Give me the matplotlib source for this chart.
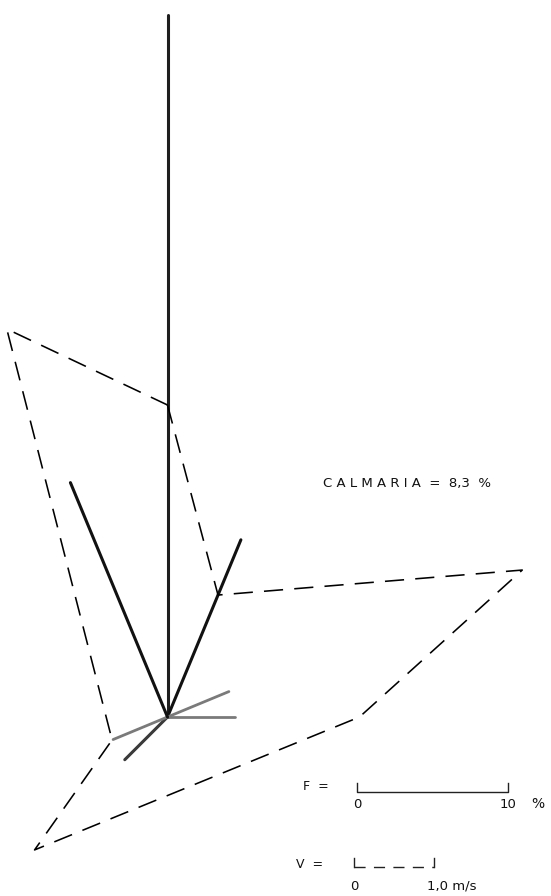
import numpy as np
import matplotlib.pyplot as plt

# wind directions in degrees from north (clockwise)
directions = ['N', 'NNE', 'ENE', 'E', 'SW', 'WSW', 'NNW']
angles = [0.0, 22.5, 67.5, 90.0, 225.0, 247.5, 337.5]
freq_pct = [46.5, 12.7, 4.4, 4.5, 4.0, 3.9, 16.8]      # frequency (%)
speed_ms = [3.9, 1.65, 4.8, 2.4, 2.35, 0.75, 5.25]    # mean speed (m/s)
freq_colors = ['#1e1e1e', '#111111', '#7a7a7a', '#7a7a7a', '#3a3a3a', '#7a7a7a', '#111111']
calm_pct = 8.3

# drawing scales (pixels)
cx, cy = 167.5, 717.0
px_per_pct = 15.1
px_per_ms = 80.0


def polar_xy(r, ang):
    a = np.radians(ang)
    return cx + r * np.sin(a), cy - r * np.cos(a)


fig = plt.figure(figsize=(5.51, 8.96), dpi=100)
ax = fig.add_axes([0, 0, 1, 1])
ax.set_xlim(0, 551)
ax.set_ylim(896, 0)
ax.axis('off')

# frequency spokes
for f, ang, c in zip(freq_pct, angles, freq_colors):
    x, y = polar_xy(f * px_per_pct, ang)
    lw = 2.2 if c != '#7a7a7a' else 2.0
    ax.plot([cx, x], [cy, y], color=c, lw=lw, solid_capstyle='round')

# speed polygon, going round the compass
order = np.argsort(angles)
px = []
py = []
for i in order:
    x, y = polar_xy(speed_ms[i] * px_per_ms, angles[i])
    px.append(x)
    py.append(y)
px.append(px[0])
py.append(py[0])
ax.plot(px, py, color='black', lw=1.15, linestyle=(0, (12, 7)))

txt_kw = dict(color='#111111', fontfamily='DejaVu Sans')
calm_txt = f'{calm_pct:.1f}'.replace('.', ',')
ax.text(407, 484, 'C A L M A R I A  =  ' + calm_txt + '  %',
        fontsize=9.5, ha='center', va='center', **txt_kw)

# frequency scale bar
fx0, fy = 357, 792
fx1 = fx0 + 10 * px_per_pct
ax.plot([fx0, fx0, fx1, fx1], [783, fy, fy, 783], color='#222222', lw=1.0)
ax.text(316, 786, 'F  =', fontsize=9, ha='center', va='center', **txt_kw)
ax.text(fx0, 804, '0', fontsize=9.5, ha='center', va='center', **txt_kw)
ax.text(fx1, 804, '10', fontsize=9.5, ha='center', va='center', **txt_kw)
ax.text(538, 804, '%', fontsize=10, ha='center', va='center', **txt_kw)

# speed scale bar
vx0, vy = 354, 867
vx1 = vx0 + 1.0 * px_per_ms
ax.plot([vx0, vx0], [858, vy], color='#222222', lw=1.0)
ax.plot([vx1, vx1], [858, vy], color='#222222', lw=1.0)
ax.plot([vx0, vx1], [vy, vy], color='#222222', lw=1.0, linestyle=(0, (8, 6)))
ax.text(310, 864, 'V  =', fontsize=9, ha='center', va='center', **txt_kw)
ax.text(vx0, 886, '0', fontsize=9.5, ha='center', va='center', **txt_kw)
ax.text(452, 886, '1,0 m/s', fontsize=9.5, ha='center', va='center', **txt_kw)

fig.savefig('out.png', dpi=100, facecolor='white')
